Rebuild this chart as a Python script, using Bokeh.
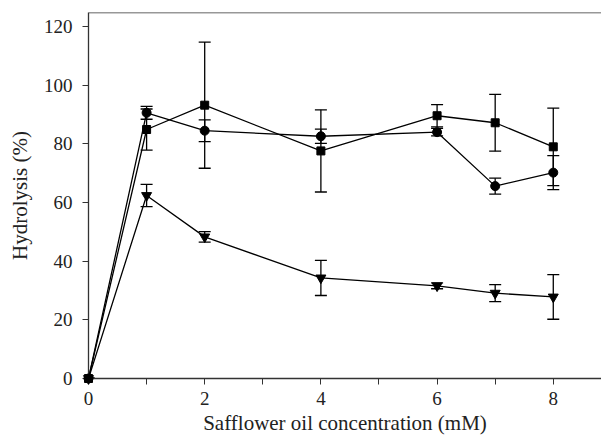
from bokeh.plotting import figure
from bokeh.models import Range1d, Whisker, ColumnDataSource, Span, FixedTicker
from bokeh.embed import file_html
from bokeh.resources import INLINE

# Data
conc = [0, 1, 2, 4, 6, 7, 8]
circle_vals = [0, 90.6, 84.5, 82.6, 84.0, 65.6, 70.2]
circle_err = [0, 2.2, 3.7, 2.4, 1.3, 2.7, 5.8]
square_vals = [0, 84.9, 93.2, 77.6, 89.6, 87.2, 79.0]
square_err = [0, 7.0, 21.5, 14.0, 3.8, 9.7, 13.2]
tri_vals = [0, 62.4, 48.3, 34.3, 31.6, 29.1, 27.8]
tri_err = [0, 3.8, 1.8, 6.0, 1.0, 2.9, 7.6]

x_ticks = [0, 2, 4, 6, 8]
x_minor = [1, 3, 5, 7]
y_ticks = [0, 20, 40, 60, 80, 100, 120]
X_MAX = 8.83
Y_MAX = 124.8

FONT = "Liberation Serif"

p = figure(width=601, height=442, output_backend="svg", toolbar_location=None,
           x_range=Range1d(0, X_MAX), y_range=Range1d(0, Y_MAX),
           min_border_left=88, min_border_right=0, min_border_top=12, min_border_bottom=64)
p.outline_line_color = None
p.grid.visible = False
p.background_fill_color = "white"
p.border_fill_color = "white"

for ax in (p.xaxis[0], p.yaxis[0]):
    ax.axis_line_color = "#333333"
    ax.axis_line_width = 1.3
    ax.major_tick_line_color = "#333333"
    ax.minor_tick_line_color = "#333333"
    ax.major_tick_in = 0
    ax.major_tick_out = 6
    ax.minor_tick_in = 0
    ax.minor_tick_out = 6
    ax.major_label_text_font = FONT
    ax.major_label_text_font_size = "19px"
    ax.major_label_text_color = "#222222"
    ax.axis_label_text_font = FONT
    ax.axis_label_text_font_size = "21px"
    ax.axis_label_text_font_style = "normal"
    ax.axis_label_text_color = "#222222"

p.xaxis.ticker = FixedTicker(ticks=x_ticks, minor_ticks=x_minor)
p.yaxis.ticker = FixedTicker(ticks=y_ticks, minor_ticks=[])
p.xaxis.axis_label = "Safflower oil concentration (mM)"
p.yaxis.axis_label = "Hydrolysis (%)"
p.xaxis.major_label_standoff = 7
p.xaxis.axis_label_standoff = 3
p.yaxis.major_label_standoff = 10
p.yaxis.axis_label_standoff = 9

p.add_layout(Span(location=Y_MAX, dimension="width", line_color="#333333", line_width=1.5))

series = [
    (circle_vals, circle_err, "circle", 9),
    (square_vals, square_err, "square", 8),
    (tri_vals, tri_err, "inverted_triangle", 10),
]

for vals, err, marker, size in series:
    src = ColumnDataSource(dict(
        x=conc, y=vals,
        lo=[v - e for v, e in zip(vals, err)],
        hi=[v + e for v, e in zip(vals, err)],
    ))
    w = Whisker(source=src, base="x", upper="hi", lower="lo",
                line_color="black", line_width=1.3)
    w.upper_head.size = 12
    w.lower_head.size = 12
    w.upper_head.line_color = "black"
    w.lower_head.line_color = "black"
    w.upper_head.line_width = 1.3
    w.lower_head.line_width = 1.3
    p.add_layout(w)
    p.line("x", "y", source=src, line_color="black", line_width=1.3)
    p.scatter("x", "y", source=src, marker=marker, size=size,
              fill_color="black", line_color="black", level="overlay")

open("out.html", "w").write(file_html(p, INLINE))
